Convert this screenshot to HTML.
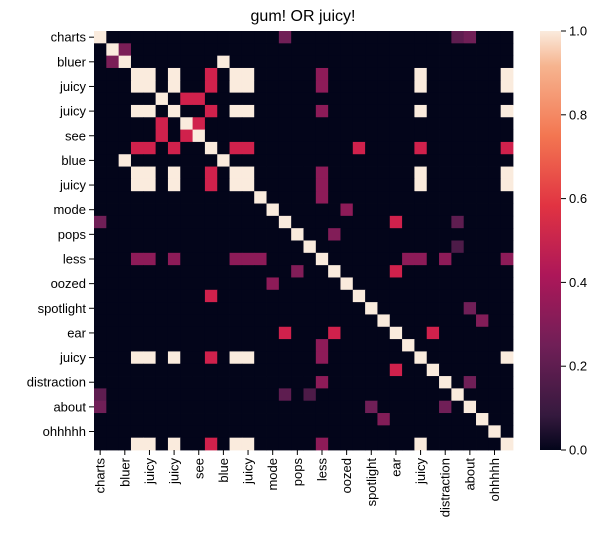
<!DOCTYPE html>
<html><head><meta charset="utf-8"><style>
body{margin:0;background:#fff;}
svg text{font-family:"Liberation Sans","DejaVu Sans",sans-serif;fill:#000;}
</style></head><body>
<svg id="chart" width="601" height="544" xmlns="http://www.w3.org/2000/svg">
<defs><linearGradient id="cbg" x1="0" y1="1" x2="0" y2="0">
<stop offset="0" stop-color="#03051a"/><stop offset="0.083" stop-color="#35193e"/><stop offset="0.25" stop-color="#701f57"/><stop offset="0.417" stop-color="#ad1759"/><stop offset="0.583" stop-color="#e13342"/><stop offset="0.75" stop-color="#f37651"/><stop offset="0.917" stop-color="#f6b48f"/><stop offset="1" stop-color="#faebdd"/></linearGradient></defs>
<text x="303" y="21" font-size="16" text-anchor="middle">gum! OR juicy!</text>
<g id="cells"></g><g id="yt"></g><g id="xt"></g>
<rect x="540" y="31" width="21" height="419" fill="url(#cbg)"/>
<g id="cb"></g>
</svg>
<script>
const labels=["charts","","bluer","","juicy","","juicy","","see","","blue","","juicy","","mode","","pops","","less","","oozed","","spotlight","","ear","","juicy","","distraction","","about","","ohhhhh",""];
const juicyGroup=[3,4,6,11,12,26,33];
const entryI=[9,9,9,9,9,9,9, 18,18,18,18,18,18,18, 2,1,0,0,0,5,5,7,9,13,14,15,15,16,17,18,18,19,22,23,24,28];
const entryJ=[3,4,6,11,12,26,33, 3,4,6,11,12,26,33, 10,2,15,29,30,7,8,8,21,18,20,24,29,19,29,25,28,24,30,31,27,30];
const entryV=[0.52,0.52,0.52,0.52,0.52,0.52,0.52, 0.33,0.33,0.33,0.33,0.33,0.33,0.33, 1,0.28,0.25,0.2,0.25,0.52,0.52,0.52,0.52,0.33,0.33,0.52,0.2,0.3,0.15,0.33,0.33,0.52,0.25,0.3,0.52,0.25];
const cbTicks=[0,0.2,0.4,0.6,0.8,1.0];
const N=34,X0=94,Y0=31,W=419,H=419,cw=W/N,ch=H/N;
const M=[];for(let i=0;i<N;i++){M.push(new Array(N).fill(0));M[i][i]=1;}
for(const a of juicyGroup)for(const b of juicyGroup)M[a][b]=1;
for(let k=0;k<entryI.length;k++){M[entryI[k]][entryJ[k]]=entryV[k];M[entryJ[k]][entryI[k]]=entryV[k];}
const stops=[[0,[3,5,26]],[0.083,[53,25,62]],[0.25,[112,31,87]],[0.417,[173,23,89]],[0.5,[203,27,79]],[0.583,[225,51,66]],[0.75,[243,118,81]],[0.917,[246,180,143]],[1,[250,235,221]]];
function cmap(v){for(let k=1;k<stops.length;k++){if(v<=stops[k][0]){const [a,ca]=stops[k-1],[b,cb]=stops[k];const t=(v-a)/(b-a);return 'rgb('+ca.map((c,i)=>Math.round(c+(cb[i]-c)*t)).join(',')+')';}}return 'rgb(250,235,221)';}
const xS=j=>X0+j*cw, yS=i=>Y0+i*ch, cbY=v=>Y0+H-v*H;
const ns='http://www.w3.org/2000/svg';
const g=document.getElementById('cells');
for(let i=0;i<N;i++)for(let j=0;j<N;j++){const r=document.createElementNS(ns,'rect');
r.setAttribute('x',xS(j));r.setAttribute('y',yS(i));r.setAttribute('width',cw+0.4);r.setAttribute('height',ch+0.4);r.setAttribute('fill',cmap(M[i][j]));


g.appendChild(r);}
const yt=document.getElementById('yt'),xt=document.getElementById('xt');
for(let i=0;i<N;i+=2){const c=yS(i)+ch/2;
const l=document.createElementNS(ns,'line');l.setAttribute('x1',X0-5);l.setAttribute('x2',X0);l.setAttribute('y1',c);l.setAttribute('y2',c);l.setAttribute('stroke','#000');


yt.appendChild(l);
const t=document.createElementNS(ns,'text');t.setAttribute('x',X0-8);t.setAttribute('y',c+4.5);t.setAttribute('text-anchor','end');t.setAttribute('font-size','13');t.textContent=labels[i];


yt.appendChild(t);
const cx=xS(i)+cw/2;
const l2=document.createElementNS(ns,'line');l2.setAttribute('x1',cx);l2.setAttribute('x2',cx);l2.setAttribute('y1',Y0+H);l2.setAttribute('y2',Y0+H+5);l2.setAttribute('stroke','#000');


xt.appendChild(l2);
const t2=document.createElementNS(ns,'text');t2.setAttribute('transform','translate('+(cx+4.5)+','+(Y0+H+8)+') rotate(-90)');t2.setAttribute('text-anchor','end');t2.setAttribute('font-size','13');t2.textContent=labels[i];


xt.appendChild(t2);}
const cb=document.getElementById('cb');
for(const v of cbTicks){const y=cbY(v);
const l=document.createElementNS(ns,'line');l.setAttribute('x1',561);l.setAttribute('x2',566);l.setAttribute('y1',y);l.setAttribute('y2',y);l.setAttribute('stroke','#000');


cb.appendChild(l);
const t=document.createElementNS(ns,'text');t.setAttribute('x',569);t.setAttribute('y',y+4.5);t.setAttribute('font-size','13');t.textContent=v.toFixed(1);


cb.appendChild(t);}
</script>
</body></html>
